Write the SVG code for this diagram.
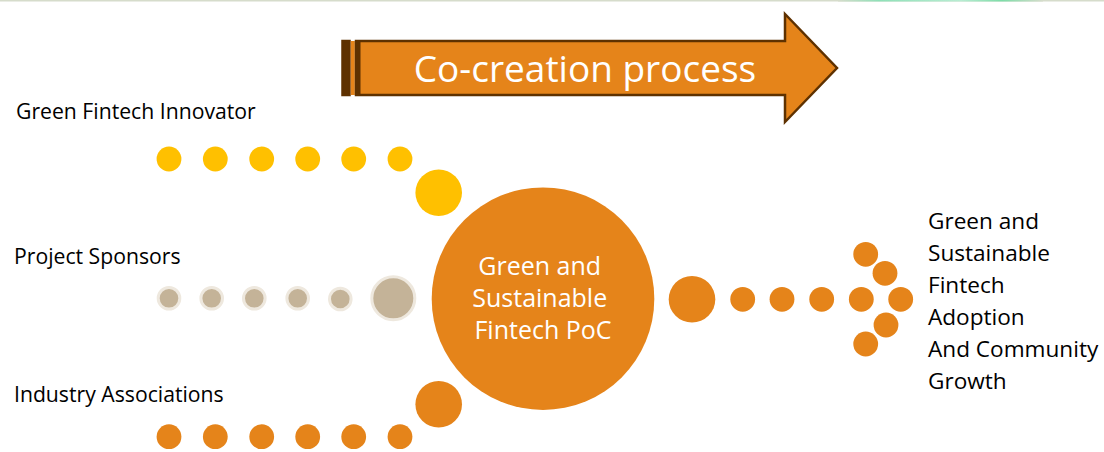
<svg xmlns="http://www.w3.org/2000/svg" width="1104" height="452" viewBox="0 0 1104 452">
<defs>
<style>
.lbl{font-family:"Open Sans","Liberation Sans",sans-serif;fill:#000;}
.wt{font-family:"Open Sans","Liberation Sans",sans-serif;fill:#fff;}
.y{fill:#FFC000;}
.o{fill:#E5841A;}
.g{fill:#C4B398;stroke:#EEE8DE;stroke-width:3;}
.ar{stroke:#5E3100;stroke-width:2.5;stroke-linejoin:miter;}
</style>
<linearGradient id="gl" x1="0" x2="1" y1="0" y2="0">
<stop offset="0" stop-color="#d6dccb"/>
<stop offset="0.2" stop-color="#8fe0b8"/>
<stop offset="0.6" stop-color="#b8ecd2"/>
<stop offset="0.8" stop-color="#7ddca8"/>
<stop offset="1" stop-color="#d6dccb"/>
</linearGradient>
</defs>
<rect x="0" y="0" width="1104" height="452" fill="#fff"/>
<rect x="0" y="0" width="1104" height="1.5" fill="#d6dccb"/>
<rect x="838" y="0" width="205" height="1.5" fill="url(#gl)"/>

<g id="process-arrow">
<rect class="ar" x="342.5" y="41" width="7" height="54" fill="#5E3100"/>
<rect x="350.8" y="41" width="4" height="54" fill="#E5841A"/>
<polygon class="ar" points="356,41 785,41 785,14 837,68 785,122 785,95 356,95" fill="#E5841A"/>
<rect x="355" y="41" width="5.5" height="54" fill="#5E3100"/>
<text class="wt" x="585" y="81.5" font-size="37" text-anchor="middle">Co-creation process</text>
</g>

<g id="green-fintech-innovator">
<text class="lbl" x="16" y="119" font-size="21.2">Green Fintech Innovator</text>
<circle class="y" cx="169" cy="159" r="12.4"/>
<circle class="y" cx="215.3" cy="159" r="12.4"/>
<circle class="y" cx="261.7" cy="159" r="12.4"/>
<circle class="y" cx="307.7" cy="159" r="12.4"/>
<circle class="y" cx="353.7" cy="159" r="12.4"/>
<circle class="y" cx="400" cy="159" r="12.4"/>
<circle class="y" cx="438.7" cy="192.7" r="23.3"/>
</g>

<g id="project-sponsors">
<text class="lbl" x="14" y="264" font-size="21.2">Project Sponsors</text>
<circle class="g" cx="169" cy="298.3" r="10.8"/>
<circle class="g" cx="211.7" cy="298.3" r="10.8"/>
<circle class="g" cx="254.3" cy="298.3" r="10.8"/>
<circle class="g" cx="297.7" cy="298.3" r="10.8"/>
<circle class="g" cx="340.3" cy="299" r="10.8"/>
<circle class="g" cx="393.3" cy="298.3" r="21.5"/>
</g>

<g id="industry-associations">
<text class="lbl" x="14" y="401.5" font-size="21.2">Industry Associations</text>
<circle class="o" cx="169" cy="436.7" r="12.4"/>
<circle class="o" cx="215.3" cy="436.7" r="12.4"/>
<circle class="o" cx="261.7" cy="436.7" r="12.4"/>
<circle class="o" cx="307.7" cy="436.7" r="12.4"/>
<circle class="o" cx="353.7" cy="436.7" r="12.4"/>
<circle class="o" cx="400" cy="436.7" r="12.4"/>
<circle class="o" cx="438.7" cy="404.3" r="23.3"/>
</g>

<g id="fintech-poc">
<circle class="o" cx="543" cy="298.7" r="111.3"/>
<text class="wt" font-size="25" text-anchor="middle">
<tspan x="543" y="274.5">Green and</tspan>
<tspan x="543" y="306.5">Sustainable</tspan>
<tspan x="543" y="338.5">Fintech PoC</tspan>
</text>
</g>

<g id="connectors">
<circle class="o" cx="692" cy="299.3" r="23.3"/>
<circle class="o" cx="742.7" cy="299.3" r="12.4"/>
<circle class="o" cx="782" cy="299.3" r="12.4"/>
<circle class="o" cx="821.7" cy="299.3" r="12.4"/>
<circle class="o" cx="861.3" cy="299.3" r="12.4"/>
<circle class="o" cx="900.7" cy="299.3" r="12.4"/>
<circle class="o" cx="865.7" cy="254.3" r="12.4"/>
<circle class="o" cx="885" cy="273.3" r="12.4"/>
<circle class="o" cx="886" cy="325" r="12.4"/>
<circle class="o" cx="865.7" cy="344" r="12.4"/>
</g>

<g id="adoption-growth">
<text class="lbl" font-size="22.6">
<tspan x="928" y="229">Green and</tspan>
<tspan x="928" y="261">Sustainable</tspan>
<tspan x="928" y="293">Fintech</tspan>
<tspan x="928" y="325">Adoption</tspan>
<tspan x="928" y="357">And Community</tspan>
<tspan x="928" y="389">Growth</tspan>
</text>
</g>
</svg>
